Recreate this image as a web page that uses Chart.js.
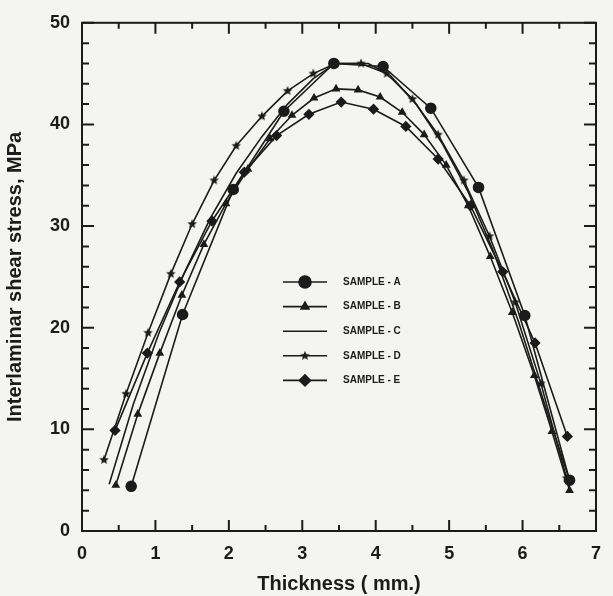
<!DOCTYPE html>
<html>
<head>
<meta charset="utf-8">
<script src="https://cdn.jsdelivr.net/npm/chart.js@4.4.0/dist/chart.umd.min.js"></script>
<style>
  html, body { margin: 0; padding: 0; background: #f4f4f2; }
  #wrap { width: 613px; height: 596px; }
</style>
</head>
<body>
<div id="wrap"><canvas id="shearChart" width="613" height="596"></canvas></div>
<script>
// values (thickness in mm, stress in MPa)
const xA = [0.67, 1.37, 2.06, 2.75, 3.43, 4.10, 4.75, 5.40, 6.03, 6.64];
const yA = [4.4, 21.3, 33.6, 41.3, 46.0, 45.7, 41.6, 33.8, 21.2, 5.0];

const xB = [0.46, 0.76, 1.06, 1.36, 1.66, 1.96, 2.26, 2.56, 2.86, 3.16, 3.46, 3.76, 4.06, 4.36, 4.66, 4.96, 5.26, 5.56, 5.86, 6.16, 6.40, 6.64];
const yB = [4.5, 11.5, 17.5, 23.2, 28.2, 32.2, 35.6, 38.6, 40.9, 42.6, 43.5, 43.4, 42.7, 41.2, 39.0, 36.0, 32.0, 27.0, 21.5, 15.3, 9.8, 4.0];

const xC = [0.37, 0.70, 1.05, 1.40, 1.75, 2.10, 2.45, 2.80, 3.15, 3.45, 3.90, 4.20, 4.55, 4.90, 5.25, 5.60, 5.95, 6.30, 6.65];
const yC = [4.6, 12.5, 19.5, 25.5, 30.8, 35.2, 38.8, 42.0, 44.5, 46.0, 46.0, 44.8, 42.0, 38.2, 33.5, 27.6, 20.5, 12.5, 4.8];

const xD = [0.30, 0.60, 0.90, 1.21, 1.50, 1.80, 2.10, 2.45, 2.80, 3.15, 3.45, 3.80, 4.15, 4.50, 4.85, 5.20, 5.55, 5.90, 6.25, 6.60];
const yD = [7.0, 13.5, 19.5, 25.3, 30.2, 34.5, 37.9, 40.8, 43.3, 45.0, 46.0, 46.0, 45.0, 42.5, 39.0, 34.5, 29.0, 22.5, 14.5, 5.2];

const xE = [0.45, 0.89, 1.33, 1.77, 2.21, 2.65, 3.09, 3.53, 3.97, 4.41, 4.85, 5.29, 5.73, 6.17, 6.61];
const yE = [9.9, 17.5, 24.5, 30.5, 35.3, 38.9, 41.0, 42.2, 41.5, 39.8, 36.6, 32.0, 25.5, 18.5, 9.3];

const seriesNames = ['SAMPLE - A', 'SAMPLE - B', 'SAMPLE - C', 'SAMPLE - D', 'SAMPLE - E'];
const xTicks = [0, 1, 2, 3, 4, 5, 6, 7];
const yTicks = [0, 10, 20, 30, 40, 50];

const INK = '#1b1b1b';
const FONT = '"Liberation Sans", Arial, sans-serif';

// filled five point star used for sample D
function makeStar(r) {
    const c = document.createElement('canvas');
    c.width = c.height = r * 2 + 2;
    const g = c.getContext('2d');
    g.fillStyle = INK;
    g.beginPath();
    for (let i = 0; i < 10; i++) {
        const rad = i % 2 === 0 ? r : r * 0.45;
        const a = -Math.PI / 2 + i * Math.PI / 5;
        g.lineTo(r + 1 + rad * Math.cos(a), r + 1 + rad * Math.sin(a));
    }
    g.closePath();
    g.fill();
    return c;
}
const starImg = makeStar(5);

const pts = (xs, ys) => xs.map((x, i) => ({ x, y: ys[i] }));

function series(i, xs, ys, style, radius) {
    return {
        label: seriesNames[i],
        data: pts(xs, ys),
        borderColor: INK,
        backgroundColor: INK,
        borderWidth: 1.6,
        pointStyle: style,
        pointRadius: radius,
        pointBackgroundColor: INK,
        pointBorderColor: INK,
        tension: 0
    };
}

const datasets = [
    series(0, xA, yA, 'circle', 5),
    series(1, xB, yB, 'triangle', 3.5),
    series(2, xC, yC, 'circle', 0),
    series(3, xD, yD, starImg, 5),
    series(4, xE, yE, 'rectRot', 4.5)
];

// frame + inward ticks on all four sides
const frameTicks = {
    id: 'frameTicks',
    afterDraw(chart) {
        const { ctx, chartArea: a, scales: { x, y } } = chart;
        ctx.save();
        ctx.strokeStyle = INK;
        ctx.lineWidth = 2;
        ctx.beginPath();
        for (let v = xTicks[0]; v <= xTicks[xTicks.length - 1] + 1e-9; v += 0.5) {
            const px = x.getPixelForValue(v);
            const len = Number.isInteger(v) ? 11 : 6;
            ctx.moveTo(px, a.bottom); ctx.lineTo(px, a.bottom - len);
            ctx.moveTo(px, a.top); ctx.lineTo(px, a.top + len);
        }
        for (let v = yTicks[0]; v <= yTicks[yTicks.length - 1] + 1e-9; v += 2) {
            const py = y.getPixelForValue(v);
            const len = v % 10 === 0 ? 12 : 7;
            ctx.moveTo(a.left, py); ctx.lineTo(a.left + len, py);
            ctx.moveTo(a.right, py); ctx.lineTo(a.right - len, py);
        }
        ctx.stroke();
        ctx.strokeRect(a.left, a.top, a.width, a.height);
        ctx.restore();
    }
};

// legend drawn inside the plot, like the original figure
const innerLegend = {
    id: 'innerLegend',
    afterDatasetsDraw(chart) {
        const ctx = chart.ctx;
        ctx.save();
        ctx.font = 'bold 10px ' + FONT;
        ctx.textBaseline = 'middle';
        ctx.fillStyle = INK;
        chart.data.datasets.forEach((ds, i) => {
            const yy = 282 + i * 24.6;
            ctx.strokeStyle = INK;
            ctx.lineWidth = 1.6;
            ctx.beginPath();
            ctx.moveTo(283, yy);
            ctx.lineTo(327, yy);
            ctx.stroke();
            if (ds.pointRadius > 0) {
                Chart.helpers.drawPoint(ctx, {
                    pointStyle: ds.pointStyle,
                    radius: ds.pointRadius + 1,
                    rotation: 0,
                    borderWidth: 1
                }, 305, yy);
                ctx.fill();
            }
            ctx.fillText(ds.label, 343, yy);
        });
        ctx.restore();
    }
};

new Chart(document.getElementById('shearChart'), {
    type: 'line',
    data: { datasets },
    options: {
        responsive: false,
        animation: false,
        devicePixelRatio: 1,
        layout: { padding: { left: 0, right: 16, top: 19, bottom: 0 } },
        plugins: {
            legend: { display: false },
            tooltip: { enabled: false }
        },
        scales: {
            x: {
                type: 'linear',
                min: 0,
                max: 7,
                afterBuildTicks: s => { s.ticks = xTicks.map(v => ({ value: v })); },
                afterFit: s => { s.height = 65; },
                grid: { display: false, drawTicks: false },
                border: { display: false },
                ticks: {
                    color: INK,
                    padding: 12,
                    font: { family: FONT, size: 18, weight: 'bold' }
                },
                title: {
                    display: true,
                    text: 'Thickness ( mm.)',
                    color: INK,
                    padding: { top: 2, bottom: 0 },
                    font: { family: FONT, size: 20, weight: 'bold' }
                }
            },
            y: {
                min: 0,
                max: 50,
                afterBuildTicks: s => { s.ticks = yTicks.map(v => ({ value: v })); },
                afterFit: s => { s.width = 82; },
                grid: { display: false, drawTicks: false },
                border: { display: false },
                ticks: {
                    color: INK,
                    padding: 12,
                    font: { family: FONT, size: 18, weight: 'bold' }
                },
                title: {
                    display: true,
                    text: 'Interlaminar shear stress, MPa',
                    color: INK,
                    padding: { top: 3, bottom: 0 },
                    font: { family: FONT, size: 20, weight: 'bold' }
                }
            }
        }
    },
    plugins: [frameTicks, innerLegend]
});
</script>
</body>
</html>
